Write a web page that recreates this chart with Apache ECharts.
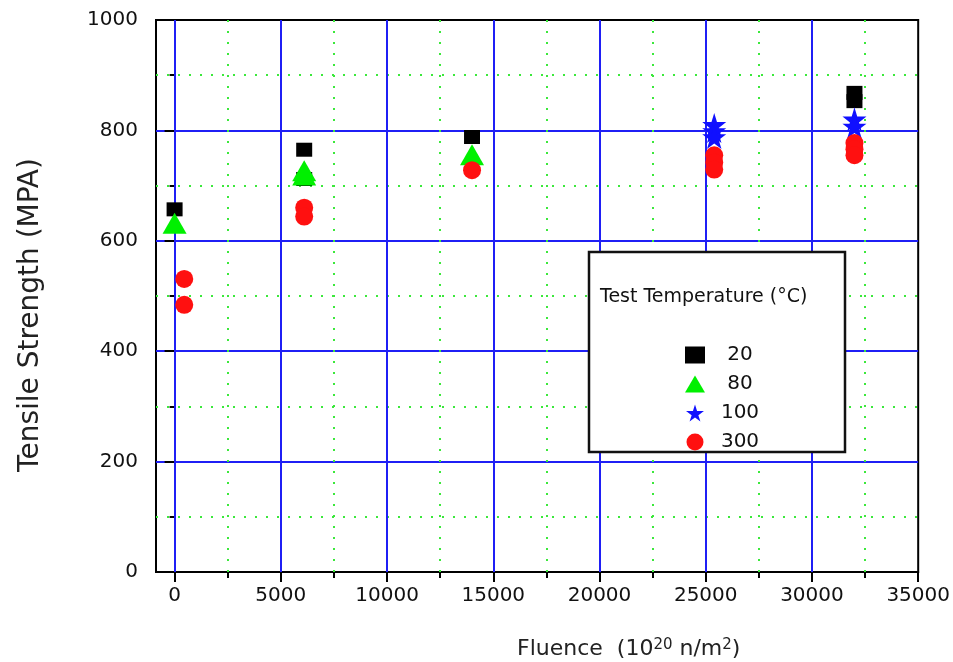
<!DOCTYPE html>
<html>
<head>
<meta charset="utf-8">
<script src="https://cdn.jsdelivr.net/npm/echarts@6/dist/echarts.min.js"></script>
<style>
  html, body { margin: 0; padding: 0; background: #fff; }
  #chart { width: 953px; height: 662px; }
</style>
</head>
<body>
<div id="chart"></div>
<script>
  // ---- data ----
  const temps = ['20', '80', '100', '300']
  const pts20 = [[0, 657], [6100, 765], [6100, 712], [14000, 788], [32000, 868], [32000, 853]]
  const pts80 = [[0, 632], [6100, 727], [6100, 719], [14000, 756]]
  const pts100 = [[25400, 810], [25400, 799], [25400, 788], [32000, 820], [32000, 807]]
  const pts300 = [[455, 531], [455, 484], [6100, 660], [6100, 644], [14000, 728],
                  [25400, 755], [25400, 742], [25400, 729], [32000, 777], [32000, 766], [32000, 755]]

  const xTicks = [0, 5000, 10000, 15000, 20000, 25000, 30000, 35000]
  const xMinorTicks = [2500, 7500, 12500, 17500, 22500, 27500, 32500]
  const xBlueLines = [0, 5000, 10000, 15000, 20000, 25000, 30000]
  const xGreenLines = [2500, 7500, 12500, 17500, 22500, 27500, 32500]

  const BLUE = '#1f1ff5'
  const GREEN = '#3be83b'
  const FONT = 'DejaVu Sans'
  const STAR = 'path://M50,0 L61,35 L98,35 L68,57 L79,91 L50,70 L21,91 L32,57 L2,35 L39,35 Z'

  let chart = echarts.init(document.getElementById('chart'), null, { renderer: 'canvas' })

  // grid lines as mark lines (drawn under the points)
  let gridLines = []
  xBlueLines.forEach(v => gridLines.push({ xAxis: v, lineStyle: { color: BLUE, width: 2, type: 'solid' } }))
  xGreenLines.forEach(v => gridLines.push({ xAxis: v, lineStyle: { color: GREEN, width: 2, type: [2, 9] } }))

  chart.setOption({
    animation: false,
    backgroundColor: '#fff',
    grid: {
      left: 156, right: 33, top: 20, bottom: 90,
      show: true, borderColor: '#000', borderWidth: 2, backgroundColor: 'transparent'
    },
    xAxis: [
      {
        type: 'value', min: -875, max: 35000,
        axisLine: { show: true, onZero: false, lineStyle: { color: '#000', width: 2 } },
        axisTick: { show: true, inside: false, length: 10, customValues: xTicks, lineStyle: { color: '#000', width: 2 } },
        axisLabel: {
          show: true, customValues: xTicks, margin: 14, color: '#111', fontFamily: FONT, fontSize: 20,
          formatter: v => String(v)
        },
        splitLine: { show: false }
      },
      {
        type: 'value', min: -875, max: 35000, position: 'bottom',
        axisLine: { show: false },
        axisTick: { show: true, inside: false, length: 6, customValues: xMinorTicks, lineStyle: { color: '#000', width: 2 } },
        axisLabel: { show: false },
        splitLine: { show: false }
      }
    ],
    yAxis: {
      type: 'value', min: 0, max: 1000, interval: 200,
      axisLine: { show: true, lineStyle: { color: '#000', width: 2 } },
      axisTick: { show: true, inside: false, length: 10, lineStyle: { color: '#000', width: 2 } },
      minorTick: { show: true, splitNumber: 2, length: 5, lineStyle: { color: '#000', width: 2 } },
      axisLabel: { margin: 18, color: '#111', fontFamily: FONT, fontSize: 20, formatter: v => String(v) },
      splitLine: { show: true, showMinLine: false, showMaxLine: false, lineStyle: { color: BLUE, width: 2 } },
      minorSplitLine: { show: true, lineStyle: { color: GREEN, width: 2, type: [2, 9] } }
    },
    legend: {
      data: temps,
      orient: 'vertical',
      left: 680, top: 340,
      itemWidth: 20, itemHeight: 17, itemGap: 9,
      z: 120,
      textStyle: {
        color: '#111', fontFamily: FONT, fontSize: 20, lineHeight: 17,
        rich: { c: { width: 60, align: 'center', fontFamily: FONT, fontSize: 20, color: '#111' } }
      },
      formatter: '{c|{name}}'
    },
    graphic: [
      {
        type: 'rect', z: 100,
        shape: { x: 589, y: 252, width: 256, height: 200 },
        style: { fill: '#fff', stroke: '#111', lineWidth: 2.5 }
      },
      {
        type: 'text', z: 101, x: 600, y: 297,
        style: { text: 'Test Temperature (°C)', font: '19px "DejaVu Sans"', fill: '#111', textVerticalAlign: 'middle' }
      },
      {
        type: 'text', z: 101, x: 31, y: 315, rotation: Math.PI / 2,
        style: { text: 'Tensile Strength (MPA)', font: '28px "DejaVu Sans"', fill: '#222', textAlign: 'center', textVerticalAlign: 'middle' }
      },
      {
        type: 'text', z: 101, x: 517, y: 638,
        style: {
          text: 'Fluence  (10{s|20} n/m{s|2})',
          font: '22px "DejaVu Sans"', fill: '#222',
          rich: {
            s: { fontFamily: FONT, fontSize: 15, verticalAlign: 'top', lineHeight: 14, fill: '#222' }
          }
        }
      }
    ],
    series: [
      {
        name: 'grid', type: 'scatter', data: [], z: 1,
        markLine: { silent: true, symbol: 'none', z: 1, label: { show: false }, animation: false, data: gridLines }
      },
      { name: '20', type: 'scatter', z: 10, symbol: 'rect', symbolSize: [16, 14], itemStyle: { color: '#000', opacity: 1 }, data: pts20 },
      { name: '80', type: 'scatter', z: 11, symbol: 'triangle', symbolSize: [24, 21], itemStyle: { color: '#00f000', opacity: 1 }, data: pts80 },
      { name: '100', type: 'scatter', z: 12, symbol: STAR, symbolSize: 24, itemStyle: { color: '#1010ff', opacity: 1 }, data: pts100 },
      { name: '300', type: 'scatter', z: 13, symbol: 'circle', symbolSize: 18, itemStyle: { color: '#ff1010', opacity: 1 }, data: pts300 }
    ]
  })
</script>
</body>
</html>
